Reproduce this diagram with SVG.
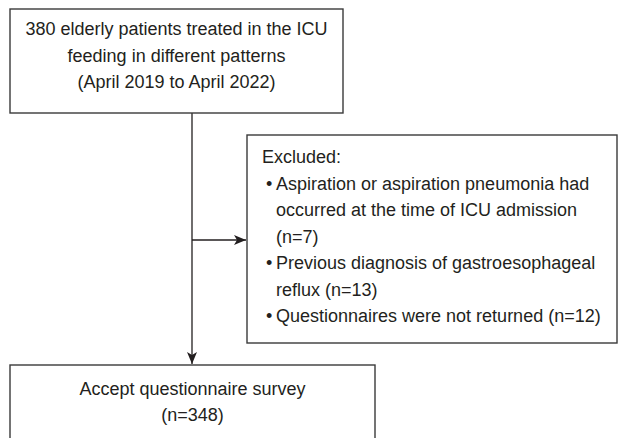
<svg xmlns="http://www.w3.org/2000/svg" width="627" height="438" viewBox="0 0 627 438">
<defs>
<style>
.box{fill:#fff;stroke:#3a3a3a;stroke-width:1.4}
.t{font-family:"Liberation Sans",Arial,sans-serif;font-size:18px;fill:#231f20}
.c{text-anchor:middle}
.ln{stroke:#231f20;stroke-width:1.3;fill:none}
</style>
<marker id="ah" viewBox="0 0 12 10" refX="12" refY="5" markerWidth="12" markerHeight="10" markerUnits="userSpaceOnUse" orient="auto">
<path d="M0,0 L12,5 L0,10 L3,5 Z" fill="#231f20"/>
</marker>
</defs>
<rect width="627" height="438" fill="#fff"/>
<g id="connectors">
<line class="ln" x1="192" y1="113" x2="192" y2="364" marker-end="url(#ah)"/>
<line class="ln" x1="192" y1="240" x2="246" y2="240" marker-end="url(#ah)"/>
</g>
<g id="top">
<rect class="box" x="10" y="9" width="333" height="104"/>
<text class="t c" x="176.5" y="35">380 elderly patients treated in the ICU</text>
<text class="t c" x="176.5" y="62">feeding in different patterns</text>
<text class="t c" x="176.5" y="88">(April 2019 to April 2022)</text>
</g>
<g id="excluded">
<rect class="box" x="247" y="135" width="370" height="208"/>
<text class="t" x="262" y="163">Excluded:</text>
<text class="t" x="266" y="190">•</text>
<text class="t" x="276" y="190">Aspiration or aspiration pneumonia had</text>
<text class="t" x="276" y="216">occurred at the time of ICU admission</text>
<text class="t" x="276" y="243">(n=7)</text>
<text class="t" x="266" y="269">•</text>
<text class="t" x="276" y="269">Previous diagnosis of gastroesophageal</text>
<text class="t" x="276" y="296">reflux (n=13)</text>
<text class="t" x="266" y="322">•</text>
<text class="t" x="276" y="322">Questionnaires were not returned (n=12)</text>
</g>
<g id="accept">
<rect class="box" x="10" y="365" width="365" height="80"/>
<text class="t c" x="192.5" y="395">Accept questionnaire survey</text>
<text class="t c" x="192.5" y="421">(n=348)</text>
</g>
</svg>
